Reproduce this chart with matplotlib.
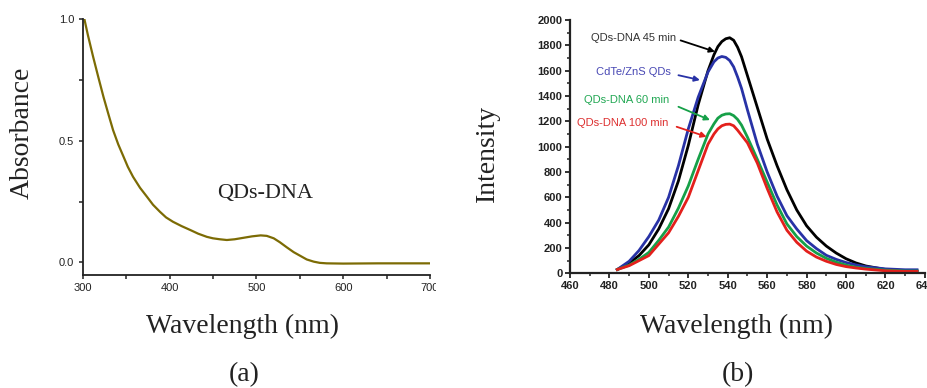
import numpy as np
import matplotlib.pyplot as plt
from matplotlib.patches import Rectangle
from matplotlib.ticker import MultipleLocator

# (a) UV-vis absorbance of the QDs-DNA conjugate
abs_wl = [302, 306, 312, 318, 324, 330, 335, 341, 347, 352, 358, 366, 374,
          381, 389, 396, 404, 414, 424, 433, 443, 450, 458, 466, 475, 485,
          495, 505, 512, 520, 527, 535, 543, 551, 558, 566, 573, 581, 600,
          640, 700]
abs_val = [1.0, 0.935, 0.846, 0.762, 0.68, 0.605, 0.544, 0.485, 0.435, 0.393,
           0.352, 0.307, 0.27, 0.237, 0.208, 0.185, 0.167, 0.149, 0.133, 0.118,
           0.105, 0.099, 0.095, 0.092, 0.095, 0.101, 0.107, 0.111, 0.109,
           0.099, 0.083, 0.062, 0.042, 0.026, 0.012, 0.003, -0.002, -0.004,
           -0.005, -0.004, -0.004]

# (b) PL spectra
pl_wl = [484, 490, 495, 500, 505, 510, 515, 520, 525, 530, 533, 535, 537,
         539, 541, 543, 545, 547, 550, 555, 560, 565, 570, 575, 580, 585,
         590, 595, 600, 605, 610, 620, 630, 636]
pl_45 = [30, 80, 140, 225, 350, 510, 730, 1010, 1330, 1600, 1725, 1790, 1830,
         1852, 1860, 1840, 1785, 1710, 1560, 1310, 1060, 850, 660, 500, 375,
         285, 215, 160, 115, 82, 58, 30, 18, 18]
pl_qd = [30, 95, 180, 290, 420, 600, 850, 1140, 1390, 1590, 1670, 1700, 1712,
         1705, 1680, 1630, 1550, 1460, 1290, 1020, 800, 610, 455, 350, 258,
         195, 142, 110, 85, 66, 52, 35, 28, 28]
pl_60 = [30, 65, 110, 165, 260, 365, 515, 690, 900, 1100, 1180, 1225, 1248,
         1258, 1260, 1245, 1215, 1170, 1075, 900, 720, 540, 390, 290, 215,
         160, 118, 88, 65, 48, 38, 25, 18, 18]
pl_100 = [30, 60, 100, 140, 230, 320, 450, 600, 810, 1020, 1100, 1140, 1165,
          1176, 1178, 1165, 1130, 1090, 1030, 870, 670, 485, 340, 245, 175,
          128, 95, 70, 53, 42, 33, 20, 15, 15]

serif = 'Liberation Serif'
sans = 'Liberation Sans'

fig = plt.figure(figsize=(9.28, 3.88), dpi=100)

# ---- panel (a)
ax1 = fig.add_axes([0.0891, 0.2912, 0.3743, 0.6591])
ax1.plot(abs_wl, abs_val, c='#7c6b04', lw=1.6)
ax1.set_xlim(300, 700)
ax1.set_ylim(-0.052, 1.0)
ax1.set_xticks([300, 400, 500, 600, 700])
ax1.set_yticks([0.0, 0.5, 1.0])
ax1.set_yticklabels(['0.0', '0.5', '1.0'])
ax1.xaxis.set_minor_locator(MultipleLocator(50))
ax1.yaxis.set_minor_locator(MultipleLocator(0.25))
for s in ['top', 'right']:
    ax1.spines[s].set_visible(False)
for s in ['left', 'bottom']:
    ax1.spines[s].set_linewidth(1.3)
    ax1.spines[s].set_color('#222222')
ax1.tick_params(which='both', direction='out', length=3, width=1.1,
                labelsize=8, colors='#222222', pad=3)
for lab in ax1.get_xticklabels() + ax1.get_yticklabels():
    lab.set_family(sans)
ax1.text(455, 0.285, 'QDs-DNA', family=serif, fontsize=16, va='center',
         color='#222222')

# the panel is cut just right of its last tick label
clip = Rectangle((0, 0), 436 / 928, 1, transform=fig.transFigure)
for t in ax1.xaxis.get_major_ticks():
    t.label1.set_clip_on(True)
    t.label1.set_clip_path(clip)

# ---- panel (b)
ax2 = fig.add_axes([0.6142, 0.2956, 0.3825, 0.6528])
ax2.plot(pl_wl, pl_45, c='black', lw=2.0, solid_joinstyle='round')
ax2.plot(pl_wl, pl_qd, c='#2832a6', lw=2.0, solid_joinstyle='round')
ax2.plot(pl_wl, pl_60, c='#16a048', lw=2.0, solid_joinstyle='round')
ax2.plot(pl_wl, pl_100, c='#e3201c', lw=2.0, solid_joinstyle='round')
ax2.set_xlim(460, 640)
ax2.set_ylim(0, 2000)
ax2.xaxis.set_major_locator(MultipleLocator(20))
ax2.xaxis.set_minor_locator(MultipleLocator(10))
ax2.yaxis.set_major_locator(MultipleLocator(200))
ax2.yaxis.set_minor_locator(MultipleLocator(100))
for s in ['top', 'right']:
    ax2.spines[s].set_visible(False)
for s in ['left', 'bottom']:
    ax2.spines[s].set_linewidth(1.6)
    ax2.spines[s].set_color('#222222')
ax2.tick_params(which='major', direction='out', length=3.5, width=1.3,
                labelsize=8, colors='#222222', pad=2)
ax2.tick_params(which='minor', direction='out', length=2, width=1.1,
                colors='#222222')
for lab in ax2.get_xticklabels() + ax2.get_yticklabels():
    lab.set_family(sans)
    lab.set_fontweight('bold')

labels = ['QDs-DNA 45 min', 'CdTe/ZnS QDs', 'QDs-DNA 60 min', 'QDs-DNA 100 min']
label_colors = ['#333333', '#4848b4', '#22a854', '#dd3030']
arrow_colors = ['black', '#2832a6', '#16a048', '#e3201c']
text_xy = [(470.6, 1855), (473.4, 1592), (467.1, 1368), (463.4, 1184)]
tail_xy = [(516.1, 1839), (515.0, 1564), (515.0, 1315), (514.1, 1157)]
tip_xy = [(533.5, 1750), (525.9, 1526), (531.0, 1210), (529.3, 1078)]
for lab, tc, ac, txy, a0, a1 in zip(labels, label_colors, arrow_colors,
                                     text_xy, tail_xy, tip_xy):
    ax2.text(txy[0], txy[1], lab, family=sans, fontsize=8, color=tc,
             va='center')
    ax2.annotate('', xy=a1, xytext=a0,
                 arrowprops=dict(arrowstyle='-|>', color=ac, lw=1.3,
                                 mutation_scale=8, shrinkA=0, shrinkB=0))

# axis titles and panel letters
fig.text(22 / 928, 1 - 133 / 388, 'Absorbance', family=serif, fontsize=20,
         rotation=90, ha='center', va='center', color='#222222')
fig.text(487 / 928, 1 - 153 / 388, 'Intensity', family=serif, fontsize=20,
         rotation=90, ha='center', va='center', color='#222222')
fig.text(243 / 928, 1 - 326 / 388, 'Wavelength (nm)', family=serif,
         fontsize=20, ha='center', va='center', color='#222222')
fig.text(737 / 928, 1 - 326 / 388, 'Wavelength (nm)', family=serif,
         fontsize=20, ha='center', va='center', color='#222222')
fig.text(244 / 928, 1 - 375 / 388, '(a)', family=serif, fontsize=20,
         ha='center', va='center', color='#222222')
fig.text(738 / 928, 1 - 375 / 388, '(b)', family=serif, fontsize=20,
         ha='center', va='center', color='#222222')

plt.savefig('out.png', dpi=100)
